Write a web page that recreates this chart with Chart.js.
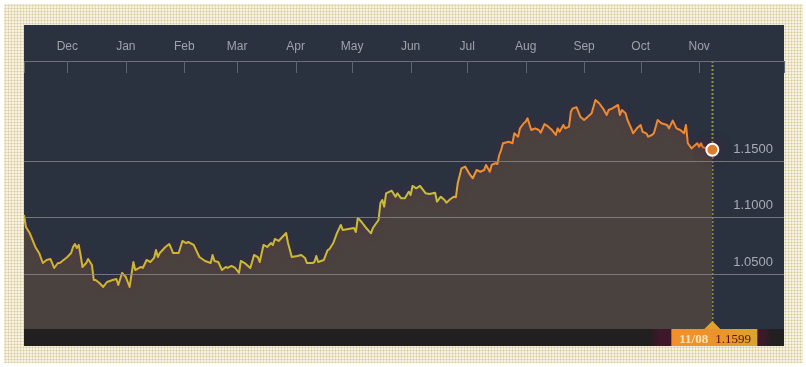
<!DOCTYPE html>
<html>
<head>
<meta charset="utf-8">
<title>EUR/USD</title>
<script src="https://cdn.jsdelivr.net/npm/chart.js@4.4.0/dist/chart.umd.min.js"></script>
<style>
  html, body { margin: 0; padding: 0; background: #ffffff; }
  #frame {
    position: absolute; left: 4px; top: 4px; width: 799px; height: 359px;
    background-color: #f7f2df;
    background-image: radial-gradient(#d6cb9f 0.9px, transparent 1.1px);
    background-size: 3px 3px;
  }
  #wrap { position: absolute; left: 0; top: 0; width: 806px; height: 367px; }
</style>
</head>
<body>
<div id="frame"></div>
<div id="wrap"><canvas id="fxChart" width="806" height="367"></canvas></div>
<script>
// -----------------------------
// Data (days since 2016-11-08, rate)
// -----------------------------
const dayOffsets = [
  0, 1, 3, 6, 8, 10, 12, 14, 16, 18, 19, 21, 23, 25, 26, 27, 28, 29, 30, 31,
  33, 34, 36, 37, 38, 40, 42, 44, 47, 49, 50, 52, 54, 55, 56, 58, 59, 62, 63, 65,
  67, 69, 70, 71, 72, 75, 77, 78, 79, 82, 84, 86, 87, 90, 92, 93, 96, 99, 100, 101,
  103, 105, 107, 108, 110, 112, 114, 115, 117, 120, 122, 124, 125, 127, 129, 131, 132, 133, 135, 137,
  139, 140, 142, 145, 147, 149, 150, 153, 154, 155, 156, 159, 161, 162, 164, 166, 168, 169, 172, 175,
  176, 177, 179, 181, 184, 185, 188, 189, 190, 191, 192, 195, 197, 198, 200, 202, 204, 205, 206, 208,
  210, 213, 215, 218, 219, 221, 223, 224, 226, 228, 229, 230, 232, 234, 236, 238, 240, 242, 244, 245,
  247, 248, 250, 251, 252, 253, 254, 257, 259, 260, 262, 263, 265, 266, 267, 269, 271, 273, 274, 276,
  278, 280, 282, 283, 284, 286, 287, 289, 290, 291, 293, 295, 297, 299, 301, 303, 305, 307, 309, 310,
  312, 315, 316, 317, 319, 320, 322, 323, 325, 327, 328, 330, 331, 333, 334, 336, 338, 341, 342, 344,
  346, 348, 350, 351, 352, 354, 357, 358, 359, 360, 365
];
const rates = [
  1.1022, 1.0916, 1.0863, 1.0739, 1.0686, 1.0597, 1.0624, 1.0633, 1.0553, 1.0597, 1.0597, 1.0624, 1.0650, 1.0686, 1.0739, 1.0765, 1.0730, 1.0757, 1.0668, 1.0562,
  1.0597, 1.0633, 1.0580, 1.0447, 1.0447, 1.0420, 1.0385, 1.0429, 1.0447, 1.0456, 1.0403, 1.0509, 1.0473, 1.0429, 1.0385, 1.0606, 1.0535, 1.0562, 1.0553, 1.0624,
  1.0606, 1.0642, 1.0712, 1.0650, 1.0686, 1.0739, 1.0765, 1.0730, 1.0686, 1.0686, 1.0792, 1.0774, 1.0783, 1.0757, 1.0686, 1.0650, 1.0615, 1.0597, 1.0668, 1.0615,
  1.0606, 1.0535, 1.0562, 1.0553, 1.0571, 1.0553, 1.0509, 1.0615, 1.0597, 1.0553, 1.0668, 1.0650, 1.0606, 1.0757, 1.0739, 1.0774, 1.0757, 1.0810, 1.0792, 1.0827,
  1.0863, 1.0774, 1.0650, 1.0659, 1.0668, 1.0642, 1.0597, 1.0597, 1.0606, 1.0659, 1.0606, 1.0624, 1.0712, 1.0721, 1.0774, 1.0863, 1.0934, 1.0889, 1.0898, 1.0907,
  1.0872, 1.0996, 1.0960, 1.0916, 1.0860, 1.0907, 1.0978, 1.1128, 1.1155, 1.1096, 1.1214, 1.1237, 1.1184, 1.1214, 1.1170, 1.1170, 1.1228, 1.1199, 1.1279, 1.1258,
  1.1279, 1.1214, 1.1208, 1.1219, 1.1140, 1.1184, 1.1155, 1.1131, 1.1161, 1.1184, 1.1179, 1.1303, 1.1435, 1.1450, 1.1391, 1.1347, 1.1420, 1.1405, 1.1420, 1.1465,
  1.1405, 1.1465, 1.1480, 1.1473, 1.1553, 1.1597, 1.1657, 1.1671, 1.1657, 1.1745, 1.1715, 1.1789, 1.1834, 1.1848, 1.1878, 1.1774, 1.1789, 1.1774, 1.1750, 1.1827,
  1.1804, 1.1774, 1.1730, 1.1789, 1.1759, 1.1819, 1.1789, 1.1804, 1.1936, 1.1966, 1.1975, 1.1892, 1.1863, 1.1892, 1.1922, 1.2040, 1.2011, 1.1966, 1.1907, 1.1951,
  1.1966, 1.1996, 1.1907, 1.1951, 1.1922, 1.1863, 1.1789, 1.1745, 1.1789, 1.1819, 1.1759, 1.1745, 1.1715, 1.1730, 1.1745, 1.1863, 1.1834, 1.1819, 1.1789, 1.1857,
  1.1789, 1.1774, 1.1745, 1.1819, 1.1657, 1.1612, 1.1657, 1.1627, 1.1657, 1.1621, 1.1599
];

const monthLabels = ["Dec", "Jan", "Feb", "Mar", "Apr", "May", "Jun", "Jul", "Aug", "Sep", "Oct", "Nov"];
const monthStarts = [23, 54, 85, 113, 144, 174, 205, 235, 266, 297, 327, 358];
const rateTicks = [1.05, 1.10, 1.15];
const lastDateLabel = "11/08";

// -----------------------------
// Helpers
// -----------------------------
function lineGradient(chart) {
  const area = chart.chartArea;
  if (!area) return "#e8a030";
  const g = chart.ctx.createLinearGradient(area.left, 0, area.right, 0);
  g.addColorStop(0, "#d2b22e");
  g.addColorStop(0.3, "#cdb832");
  g.addColorStop(0.55, "#c4bf3c");
  g.addColorStop(0.58, "#e99a30");
  g.addColorStop(0.62, "#ef8b2e");
  g.addColorStop(1, "#f0892e");
  return g;
}

// panel, header axis, labels and marker
const panelPlugin = {
  id: "panel",
  beforeDraw(chart) {
    const ctx = chart.ctx;
    ctx.save();
    ctx.fillStyle = "#2a323f";
    ctx.fillRect(24, 25, 760, 321);
    ctx.fillStyle = "#221f20";
    ctx.fillRect(24, 329, 760, 17);
    ctx.restore();
  },
  beforeDatasetsDraw(chart) {
    const ctx = chart.ctx;
    const x = chart.scales.x;
    const area = chart.chartArea;
    const lx = x.getPixelForValue(dayOffsets[dayOffsets.length - 1]);
    ctx.save();
    ctx.strokeStyle = "#8b9146";
    ctx.lineWidth = 2;
    ctx.setLineDash([2, 2]);
    ctx.beginPath();
    ctx.moveTo(Math.round(lx) + 0.5, area.top);
    ctx.lineTo(Math.round(lx) + 0.5, area.bottom);
    ctx.stroke();
    ctx.restore();
  },
  afterDatasetsDraw(chart) {
    // horizontal rate grid lines sit on top of the filled area
    const ctx = chart.ctx;
    const y = chart.scales.y;
    const area = chart.chartArea;
    ctx.save();
    ctx.strokeStyle = "rgba(128,131,138,0.85)";
    ctx.lineWidth = 1;
    rateTicks.forEach(v => {
      const py = Math.round(y.getPixelForValue(v)) + 0.5;
      ctx.beginPath();
      ctx.moveTo(area.left, py);
      ctx.lineTo(area.right, py);
      ctx.stroke();
    });
    ctx.restore();
  },
  afterDraw(chart) {
    const ctx = chart.ctx;
    const x = chart.scales.x;
    const y = chart.scales.y;
    const area = chart.chartArea;

    // header axis line + ticks
    ctx.save();
    ctx.strokeStyle = "#6c717a";
    ctx.lineWidth = 1;
    ctx.beginPath();
    ctx.moveTo(area.left, area.top + 0.5);
    ctx.lineTo(area.right, area.top + 0.5);
    ctx.stroke();
    ctx.strokeStyle = "#5f656e";
    const tickAt = [x.min, ...monthStarts, x.max];
    tickAt.forEach(d => {
      const px = Math.round(x.getPixelForValue(d)) + 0.5;
      ctx.beginPath();
      ctx.moveTo(px, area.top);
      ctx.lineTo(px, area.top + 12);
      ctx.stroke();
    });

    ctx.fillStyle = "#9ea3ab";
    ctx.font = "12px 'Liberation Sans', Arial, sans-serif";
    ctx.textAlign = "center";
    ctx.textBaseline = "middle";
    monthStarts.forEach((d, i) => {
      ctx.fillText(monthLabels[i], x.getPixelForValue(d), 47);
    });

    // rate labels
    ctx.fillStyle = "#a7acb4";
    ctx.font = "13px 'Liberation Sans', Arial, sans-serif";
    ctx.textAlign = "right";
    ctx.textBaseline = "alphabetic";
    rateTicks.forEach(v => {
      ctx.fillText(v.toFixed(4), 773, y.getPixelForValue(v) - 8);
    });

    // bottom marker
    const lastIdx = dayOffsets.length - 1;
    const lx = x.getPixelForValue(dayOffsets[lastIdx]);
    const glow = ctx.createLinearGradient(650, 0, 772, 0);
    glow.addColorStop(0, "rgba(62,24,42,0)");
    glow.addColorStop(0.08, "rgba(62,24,42,1)");
    glow.addColorStop(0.92, "rgba(62,24,42,1)");
    glow.addColorStop(1, "rgba(62,24,42,0)");
    ctx.fillStyle = glow;
    ctx.fillRect(650, 329, 122, 17);

    const bx = lx - 41, bw = 86;
    const box = ctx.createLinearGradient(bx, 0, bx + bw, 0);
    box.addColorStop(0, "#f1902b");
    box.addColorStop(0.55, "#eb942c");
    box.addColorStop(1, "#d9a52f");
    ctx.fillStyle = box;
    ctx.fillRect(bx, 329, bw, 17);
    ctx.fillStyle = "#e3a230";
    ctx.beginPath();
    ctx.moveTo(lx, 321);
    ctx.lineTo(lx + 8, 329);
    ctx.lineTo(lx - 8, 329);
    ctx.closePath();
    ctx.fill();

    ctx.font = "bold 13px 'Liberation Serif', 'Times New Roman', serif";
    ctx.textAlign = "left";
    ctx.textBaseline = "alphabetic";
    ctx.fillStyle = "#fbe3b8";
    ctx.fillText(lastDateLabel, bx + 8, 343);
    ctx.fillStyle = "#5e0b12";
    ctx.font = "13px 'Liberation Serif', 'Times New Roman', serif";
    ctx.fillText(rates[lastIdx].toFixed(4), bx + 44, 343);
    ctx.restore();
  }
};

const shadowPlugin = {
  id: "lineShadow",
  beforeDatasetDraw(chart) {
    const ctx = chart.ctx;
    ctx.save();
    ctx.shadowColor = "rgba(95,25,70,0.6)";
    ctx.shadowBlur = 12;
  },
  afterDatasetDraw(chart) {
    chart.ctx.restore();
  }
};

// -----------------------------
// Chart
// -----------------------------
const points = dayOffsets.map((d, i) => ({ x: d, y: rates[i] }));
const lastIndex = points.length - 1;

new Chart(document.getElementById("fxChart"), {
  type: "line",
  data: {
    datasets: [{
      label: "EUR/USD",
      data: points,
      borderColor: ctx => lineGradient(ctx.chart),
      borderWidth: 2,
      borderJoinStyle: "round",
      tension: 0,
      fill: "start",
      backgroundColor: "#4a423e",
      pointRadius: ctx => (ctx.dataIndex === lastIndex ? 6 : 0),
      pointBackgroundColor: "#f08a2c",
      pointBorderColor: "#ffffff",
      pointBorderWidth: 2
    }]
  },
  options: {
    responsive: false,
    animation: false,
    devicePixelRatio: 1,
    events: [],
    layout: { padding: { left: 24, right: 22, top: 61, bottom: 38 } },
    plugins: { legend: { display: false }, tooltip: { enabled: false } },
    scales: {
      x: { type: "linear", min: 0, max: 403, display: false },
      y: { min: 1.0013, max: 1.2385, display: false }
    }
  },
  plugins: [shadowPlugin, panelPlugin]
});
</script>
</body>
</html>
